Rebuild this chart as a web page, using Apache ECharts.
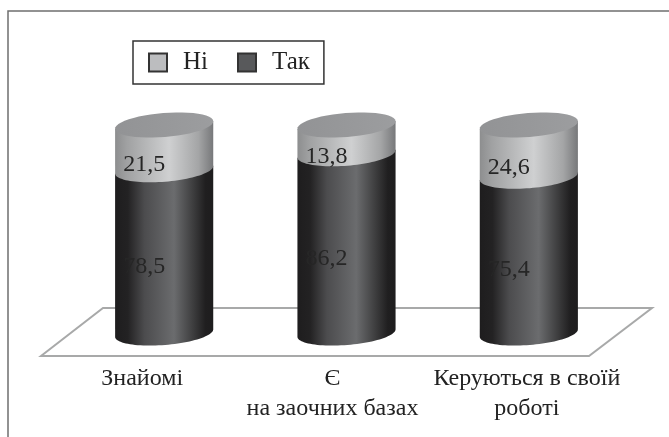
<!DOCTYPE html>
<html><head><meta charset="utf-8">
<style>html,body{margin:0;padding:0;background:#fff}#c{width:669px;height:437px}</style>
<script src="https://cdn.jsdelivr.net/npm/echarts@6/dist/echarts.min.js"></script>
</head><body><div id="c"></div>
<script>
const categories = ['Знайомі', 'Є\nна заочних базах', 'Керуються в своїй\nроботі'];
const seriesNi = [21.5, 13.8, 24.6];
const seriesTak = [78.5, 86.2, 75.4];
const legendNames = ['Ні', 'Так'];

const FONT = '"Liberation Serif", serif';
const TILT = -4.6 * Math.PI / 180;
function pt(cx, cy, rx, ry, t) {
  return [cx + rx * Math.cos(t) * Math.cos(TILT) - ry * Math.sin(t) * Math.sin(TILT),
          cy + rx * Math.cos(t) * Math.sin(TILT) + ry * Math.sin(t) * Math.cos(TILT)];
}
function arc(cx, cy, rx, ry, a, b) {
  const p = [];
  for (let i = 0; i <= 48; i++) p.push(pt(cx, cy, rx, ry, a + (b - a) * i / 48));
  return p;
}
function grad(stops) {
  return new echarts.graphic.LinearGradient(0, 0, 1, 0, stops.map(s => ({offset: s[0], color: s[1]})));
}
const darkFill = [[0, '#1e1d1e'], [0.13, '#232223'], [0.3, '#4c4c4e'], [0.6, '#6b6c6e'], [0.8, '#3c3c3d'], [0.92, '#201f20'], [1, '#1e1d1e']];
const lightFill = [[0, '#8d8e8f'], [0.12, '#a0a1a2'], [0.55, '#cfd0d1'], [0.85, '#a4a5a6'], [1, '#77787a']];
const capFill = [[0, '#929395'], [1, '#9c9d9f']];

function renderCyl(isTop) {
  return function (params, api) {
    const i = api.value(0);
    const c0 = api.coord([i, api.value(1)]);
    const c1 = api.coord([i, api.value(2)]);
    const rx = api.size([1, 0])[0] * 0.27, ry = 12;
    const cx = c0[0];
    const body = [
      pt(cx, c1[1], rx, ry, Math.PI), pt(cx, c1[1], rx, ry, 0)
    ].concat(arc(cx, c0[1], rx, ry, 0, Math.PI));
    const children = [{
      type: 'polygon', shape: {points: body},
      style: {fill: grad(isTop ? lightFill : darkFill)}
    }];
    if (isTop) children.push({
      type: 'polygon', shape: {points: arc(cx, c1[1], rx, ry, 0, 2 * Math.PI)},
      style: {fill: grad(capFill)}
    });
    children.push({
      type: 'text',
      style: {
        text: api.value(3).toFixed(1).replace('.', ','),
        x: cx - 20, y: (c0[1] + c1[1]) / 2 + (isTop ? 17 : 15),
        align: 'center', verticalAlign: 'middle',
        font: '24px ' + FONT, fill: '#262626'
      }
    });
    return {type: 'group', children};
  };
}

const labelStyle = {fontSize: 24, fontFamily: FONT, color: '#222', lineHeight: 30};
const chart = echarts.init(document.getElementById('c'), null, {renderer: 'canvas'});
chart.setOption({
  animation: false,
  backgroundColor: '#fff',
  grid: {left: 73, top: 125, width: 547, height: 208},
  xAxis: {
    type: 'category', data: categories,
    axisLine: {show: false}, axisTick: {show: false},
    axisLabel: {
      interval: 0, margin: 31, verticalAlign: 'top', ...labelStyle,
      formatter: (v, i) => v.split('\n').map(s => '{s' + i + '|' + s + '}').join('\n'),
      rich: {
        s0: {...labelStyle, padding: [0, 44, 0, 0]},
        s1: {...labelStyle, padding: [0, 28, 0, 0]},
        s2: {...labelStyle, padding: [0, 4, 0, 0]}
      }
    }
  },
  yAxis: {type: 'value', min: 0, max: 100, show: false},
  legend: {
    show: true, data: legendNames, left: 133, top: 41, orient: 'horizontal',
    icon: 'rect', itemWidth: 18, itemHeight: 18, itemGap: 29,
    padding: [9, 14, 9, 15],
    borderColor: '#333', borderWidth: 1.5,
    selectedMode: false,
    textStyle: {fontSize: 25, fontFamily: FONT, color: '#222', padding: [0, 0, 0, 11], lineHeight: 24}
  },
  graphic: [
    {type: 'polyline', silent: true, z: -1,
     shape: {points: [[8, 437], [8, 11], [669, 11]]},
     style: {stroke: '#6f6f6f', lineWidth: 1.5, fill: null}},
    {type: 'polygon', silent: true, z: -1,
     shape: {points: [[41, 356], [103, 308], [652, 308], [589, 356]]},
     style: {stroke: '#a8a9a9', lineWidth: 2, fill: '#fff'}}
  ],
  series: [
    {name: 'Так', type: 'custom', renderItem: renderCyl(false), clip: false,
     itemStyle: {color: '#58595b', borderColor: '#333', borderWidth: 1},
     encode: {x: 0, y: [1, 2]},
     data: seriesTak.map((v, i) => [i, 0, v, v])},
    {name: 'Ні', type: 'custom', renderItem: renderCyl(true), clip: false,
     itemStyle: {color: '#bcbdbf', borderColor: '#333', borderWidth: 1},
     encode: {x: 0, y: [1, 2]},
     data: seriesNi.map((v, i) => [i, seriesTak[i], seriesTak[i] + v, v])}
  ]
});
</script></body></html>
